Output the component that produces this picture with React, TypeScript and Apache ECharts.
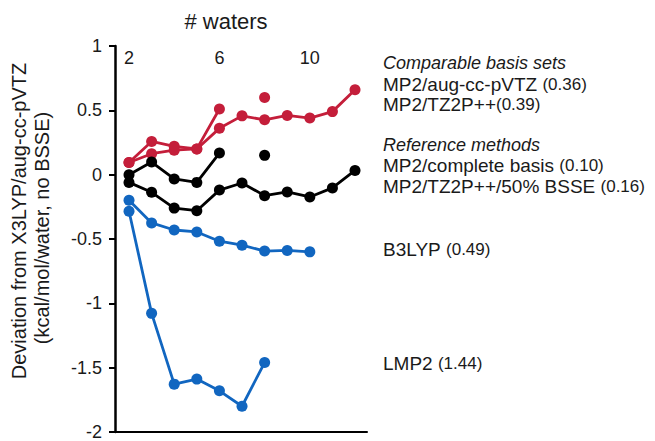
import React, { useEffect, useRef } from "react";
import * as echarts from "echarts";

const xTickLabels = [2, 6, 10];
const yTicks = { min: -2, max: 1, interval: 0.5 };

const waters = [2, 3, 4, 5, 6, 7, 8, 9, 10, 11, 12];

const mp2AugCC = [0.095, 0.163, 0.19, 0.2, 0.36, 0.457, 0.426, 0.46, 0.44, 0.49, 0.66];
const mp2TZ2P: (number | null)[] = [0.095, 0.258, 0.22, 0.2, 0.51, null, 0.6];
const mp2Complete: (number | null)[] = [0.0, 0.098, -0.033, -0.06, 0.168, null, 0.15];
const mp2TZ2PBsse = [-0.06, -0.137, -0.26, -0.28, -0.12, -0.065, -0.163, -0.134, -0.173, -0.103, 0.033];
const b3lyp = [-0.199, -0.375, -0.43, -0.445, -0.517, -0.548, -0.594, -0.589, -0.6];
const lmp2 = [-0.284, -1.078, -1.628, -1.589, -1.68, -1.8, -1.46];

const RED = "#c41e3a";
const BLUE = "#1166c0";
const BLACK = "#000000";
const TXT = "#1a1a1a";
const FONT = "'Liberation Sans', Arial, sans-serif";

function pairs(vals: (number | null)[]) {
  return vals.map((v, i) => [waters[i], v === null ? "-" : v]);
}

function lineSeries(name: string, vals: (number | null)[], color: string) {
  return {
    name,
    type: "line",
    xAxisIndex: 1,
    data: pairs(vals),
    connectNulls: false,
    showSymbol: true,
    showAllSymbol: true,
    symbol: "circle",
    symbolSize: 11,
    itemStyle: { color },
    lineStyle: { color, width: 2.8 },
    z: 3,
  };
}

export default function App() {
  const ref = useRef<HTMLDivElement>(null);
  useEffect(() => {
    if (!ref.current) return;
    const chart = echarts.init(ref.current, null, { renderer: "svg" });
    const rich = {
      m: { fontSize: 19, fontFamily: FONT, color: TXT },
      p: { fontSize: 17, fontFamily: FONT, color: TXT },
      i: { fontSize: 18, fontStyle: "italic", fontFamily: FONT, color: TXT },
    };
    const mk = (y: number, text: string) => ({
      type: "text",
      x: 383,
      y,
      style: { text, rich, verticalAlign: "middle", align: "left", fontSize: 19, fontFamily: FONT, fill: TXT },
    });
    const vText = (x: number, y: number, text: string) => ({
      type: "text",
      x,
      y,
      rotation: Math.PI / 2,
      style: { text, fontSize: 20, fontFamily: FONT, fill: TXT, align: "center", verticalAlign: "middle" },
    });
    chart.setOption({
      animation: false,
      backgroundColor: "#ffffff",
      grid: { left: 115, right: 288, top: 46, bottom: 8, containLabel: false },
      xAxis: [
        {
          type: "value",
          position: "top",
          min: 1.38,
          max: 12.53,
          axisLine: { show: false },
          axisTick: { show: false },
          splitLine: { show: false },
          axisLabel: {
            inside: true,
            margin: 3,
            customValues: xTickLabels,
            fontSize: 18,
            fontFamily: FONT,
            color: TXT,
          },
        },
        {
          type: "value",
          position: "bottom",
          min: 1.38,
          max: 12.53,
          axisLine: { show: true, onZero: true, lineStyle: { color: BLACK, width: 2 } },
          axisTick: { show: false },
          axisLabel: { show: false },
          splitLine: { show: false },
        },
      ],
      yAxis: {
        type: "value",
        min: yTicks.min,
        max: yTicks.max,
        interval: yTicks.interval,
        axisLine: { show: true, lineStyle: { color: BLACK, width: 2.5 } },
        axisTick: { show: true, length: 6, lineStyle: { color: BLACK, width: 2 } },
        splitLine: { show: false },
        axisLabel: { fontSize: 18, fontFamily: FONT, color: TXT, margin: 13 },
      },
      series: [
        lineSeries("MP2/aug-cc-pVTZ", mp2AugCC, RED),
        lineSeries("MP2/TZ2P++", mp2TZ2P, RED),
        lineSeries("MP2/complete basis", mp2Complete, BLACK),
        lineSeries("MP2/TZ2P++/50% BSSE", mp2TZ2PBsse, BLACK),
        lineSeries("B3LYP", b3lyp, BLUE),
        lineSeries("LMP2", lmp2, BLUE),
      ],
      graphic: [
        {
          type: "text",
          x: 226,
          y: 21,
          style: { text: "# waters", fontSize: 22, fontFamily: FONT, fill: TXT, align: "center", verticalAlign: "middle" },
        },
        vText(19, 221, "Deviation from X3LYP/aug-cc-pVTZ"),
        vText(42, 228, "(kcal/mol/water, no BSSE)"),
        mk(63, "{i|Comparable basis sets}"),
        mk(84, "{m|MP2/aug-cc-pVTZ }{p|(0.36)}"),
        mk(104, "{m|MP2/TZ2P++}{p|(0.39)}"),
        mk(145, "{i|Reference methods}"),
        mk(165, "{m|MP2/complete basis }{p|(0.10)}"),
        mk(186, "{m|MP2/TZ2P++/50% BSSE }{p|(0.16)}"),
        mk(249, "{m|B3LYP }{p|(0.49)}"),
        mk(363, "{m|LMP2 }{p|(1.44)}"),
      ],
    });
    return () => chart.dispose();
  }, []);
  return (
    <div
      ref={ref}
      style={{ position: "absolute", left: 0, top: 0, width: 655, height: 441, background: "#fff" }}
    />
  );
}
